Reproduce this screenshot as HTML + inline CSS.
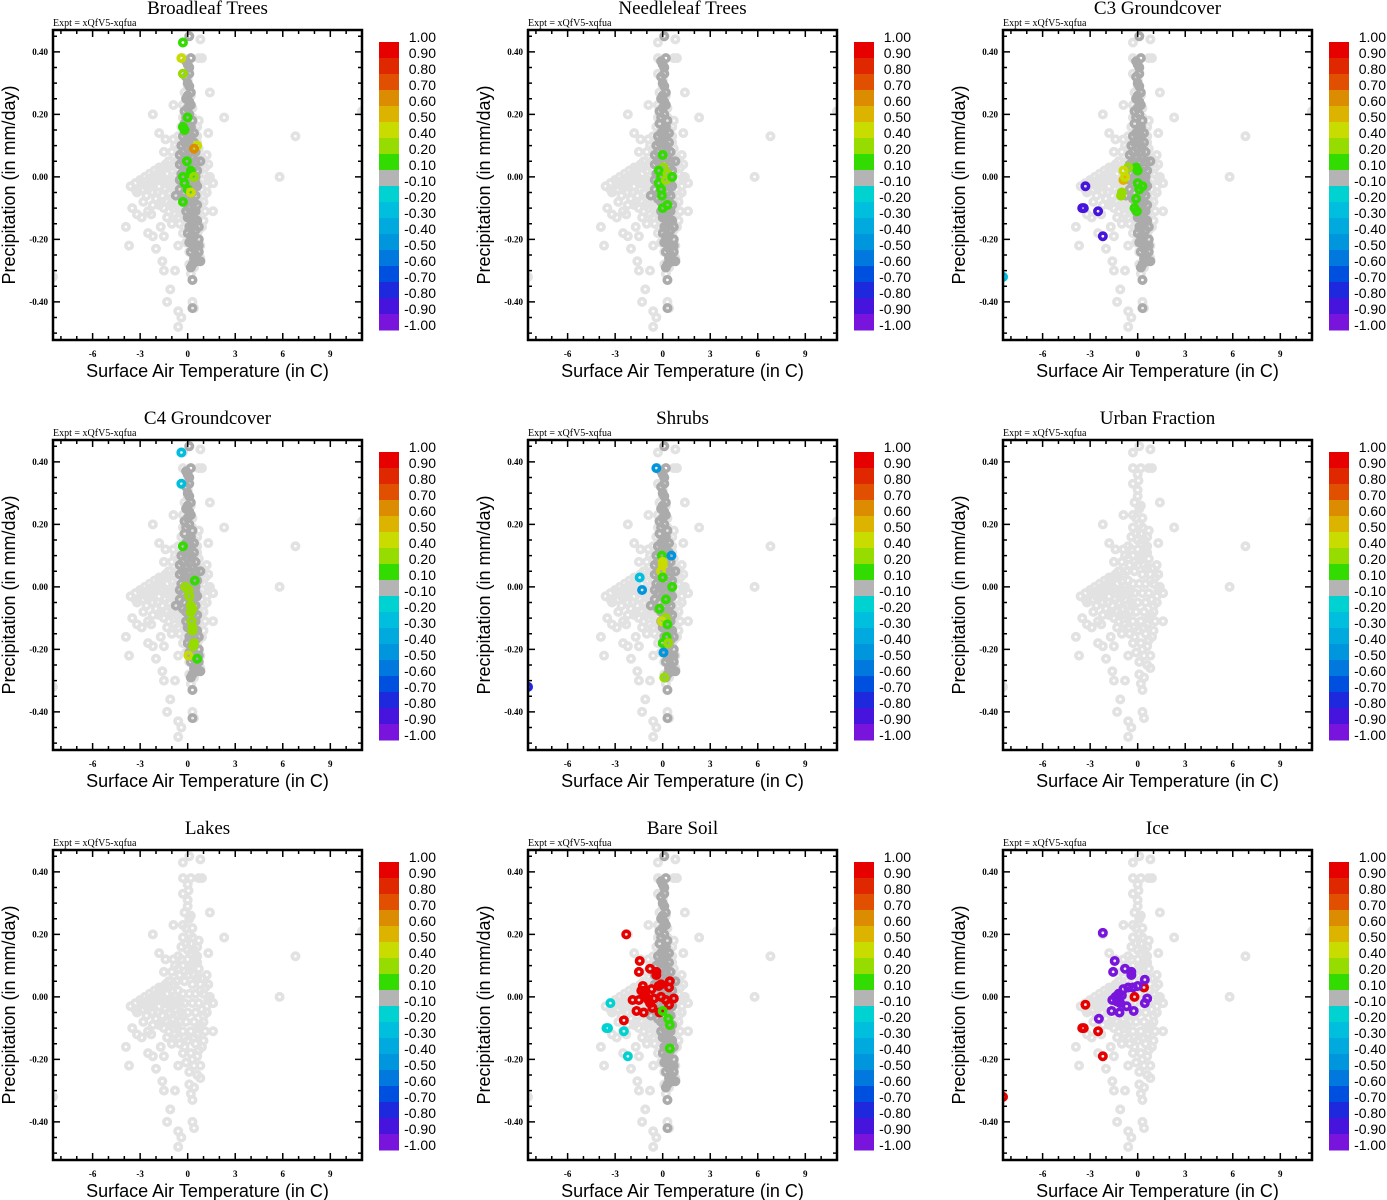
<!DOCTYPE html>
<html><head><meta charset="utf-8"><style>
body{margin:0;background:#fff}
svg{display:block}
.tt{font-family:"Liberation Serif",serif;font-size:19px}
.ex{font-family:"Liberation Serif",serif;font-size:10px}
.tk{font-family:"Liberation Serif",serif;font-size:9px;font-weight:bold}
.at{font-family:"Liberation Sans",sans-serif;font-size:18px}
.cb{font-family:"Liberation Sans",sans-serif;font-size:14px}
</style></head><body>
<svg id="fig" width="1387" height="1200" viewBox="0 0 1387 1200" xmlns="http://www.w3.org/2000/svg"></svg>
<script>
const titles=["Broadleaf Trees","Needleleaf Trees","C3 Groundcover","C4 Groundcover","Shrubs","Urban Fraction","Lakes","Bare Soil","Ice"];
const xTicks=[-6,-3,0,3,6,9];
const yTicks=[0.4,0.2,0,-0.2,-0.4];
const yTickLabels=["0.40","0.20","0.00","-0.20","-0.40"];
const cbLabels=["1.00","0.90","0.80","0.70","0.60","0.50","0.40","0.20","0.10","-0.10","-0.20","-0.30","-0.40","-0.50","-0.60","-0.70","-0.80","-0.90","-1.00"];
const cbEdges=[1,0.9,0.8,0.7,0.6,0.5,0.4,0.2,0.1,-0.1,-0.2,-0.3,-0.4,-0.5,-0.6,-0.7,-0.8,-0.9,-1];
const cbColors=["#e60000","#e02800","#e05000","#dc8c00","#dcb400","#c8dc00","#96dc00","#32dc00","#b4b4b4","#00d2d2","#00bede","#00aade","#0096de","#0078de","#0050e0","#1e28dc","#4614dc","#7814dc"];
const bgPts=[[0.1,0.45],[0.8,0.44],[-0.3,0.43],[-0.3,0.38],[0.2,0.38],[0.7,0.38],[0.9,0.38],[0,0.36],[-0.3,0.33],[0.05,0.34],[0,0.31],[1.4,0.27],[0,0.29],[0.1,0.25],[-0.3,0.23],[-0.9,0.23],[-2.2,0.2],[2.3,0.19],[0.1,0.2],[0.2,0.17],[0.7,0.18],[0.6,0.16],[-1.8,0.14],[1.3,0.14],[-1.4,0.12],[-1.5,0.08],[0.6,0.11],[1.2,0.07],[5.8,0],[6.8,0.13],[11,0.21],[-8.5,-0.32],
[-0.2,0.27],[0.2,0.26],[-0.1,0.22],[0.3,0.22],[-0.3,0.19],[0.3,0.19],[-0.4,0.16],[0,0.15],[0.4,0.15],[-0.6,0.13],[0,0.12],[0.5,0.12],[-0.8,0.1],[-0.3,0.1],[0.2,0.1],[0.7,0.09],[-1,0.08],[-0.5,0.07],[0,0.07],[0.4,0.07],[0.9,0.06],[-1.2,0.05],[-0.7,0.05],[-0.2,0.05],[0.3,0.04],[0.8,0.04],[1.3,0.04],
[-3.6,-0.03],[-3.3,-0.02],[-3,-0.01],[-2.7,0],[-2.4,0.01],[-2.1,0.02],[-1.8,0.03],[-1.5,0.03],[-2.8,-0.04],[-2.4,-0.03],[-2,-0.01],[-1.6,0],[-1.3,0.01],[-1,0.02],[-0.6,0.02],[-0.3,0.01],[0.1,0.01],[0.5,0.01],[1,0.01],[1.4,0],[-3.2,-0.05],[-2.6,-0.06],[-2.2,-0.05],[-1.8,-0.03],[-1.4,-0.02],[-1,-0.01],[-0.6,-0.01],[-0.2,-0.02],[0.3,-0.02],[0.7,-0.02],[1.2,-0.03],[1.6,-0.02],[-2,-0.07],[-1.6,-0.06],[-1.2,-0.05],[-0.8,-0.04],[-0.4,-0.05],[0,-0.05],[0.5,-0.05],[1,-0.06],[1.2,-0.05],
[-3.5,-0.1],[-3.2,-0.12],[-2.9,-0.13],[-2.5,-0.11],[-2.3,-0.12],[-3.9,-0.16],[-3.7,-0.22],[-2.5,-0.18],[-2.2,-0.19],[-1.7,-0.16],[-1.5,-0.19],[-2,-0.23],[-1.6,-0.27],[-1.5,-0.3],[-0.8,-0.3],[-1.1,-0.36],[-1.3,-0.4],[-0.6,-0.22],[-0.6,-0.43],[-0.4,-0.45],[-0.6,-0.48],[0.3,-0.4],[0.4,-0.42],[0.1,-0.28],[0.4,-0.29],[0.2,-0.31],[0.3,-0.33],[1.1,-0.11],[1.6,-0.11],[1,-0.14],[0.8,-0.26],[1.6,-0.02],[1.2,-0.05],
[-1.8,-0.09],[-1.3,-0.08],[-0.9,-0.07],[-0.5,-0.08],[-0.1,-0.08],[0.4,-0.08],[0.8,-0.09],[-1.2,-0.11],[-0.8,-0.12],[-0.3,-0.11],[0.2,-0.11],[0.6,-0.12],[-1,-0.15],[-0.5,-0.15],[0,-0.14],[0.5,-0.15],[0.9,-0.16],[-0.3,-0.18],[0.2,-0.18],[0.6,-0.19],[-0.1,-0.21],[0.4,-0.22],[0.8,-0.22],[0.1,-0.24],[0.6,-0.25]];
const bgExtra=[[-3.3,-0.04],[-2.9,-0.02],[-2.5,-0.01],[-2.2,0.0],[-1.9,0.01],[-1.7,0.02],[-1.4,0.04],[-1.1,0.05],[-0.9,0.04],[-1.2,0.03],[-2.6,-0.03],[-2.3,-0.02],[-2.0,0.0],[-1.7,-0.01],[-1.5,-0.02],[-1.2,-0.02],[-0.8,0.0],[-0.5,-0.02],[-1.4,-0.04],[-1.0,-0.03],[-1.7,-0.08],[-1.5,-0.1],[-1.1,-0.09],[-0.7,-0.09],[-0.3,-0.06],[-0.7,-0.06],[-1.3,-0.13],[-0.9,-0.1],[-0.6,-0.13],[-0.2,-0.13],[1.0,-0.08],[1.3,-0.01],[1.1,0.03],[0.8,0.02],[0.6,0.06],[-0.6,0.09],[-0.4,0.12],[-0.9,0.12],[0.2,0.14],[0.6,0.13],[-0.2,0.08],[0.9,-0.04],[0.7,-0.1],[0.7,-0.17],[0.3,-0.2],[-0.2,-0.16],[0.4,-0.13],[-2.2,-0.09],[-2.8,-0.08],[-1.9,-0.05],[0.3,0.09],[-0.1,0.17]];
const dgPts=[[0.1,0.45],[0.2,0.38],[0,0.36],[0.1,0.33],[0,0.3],[0.2,0.27],[-0.1,0.25],[0.2,0.23],[-0.2,0.21],[0.1,0.2],[0.3,0.18],[-0.2,0.17],[0.1,0.15],[0.4,0.14],[-0.3,0.13],[0,0.12],[0.4,0.11],[-0.4,0.1],[0,0.09],[0.5,0.08],[-0.5,0.07],[-0.1,0.06],[0.3,0.06],[0.8,0.05],[-0.5,0.04],[0,0.03],[0.4,0.03],[-0.4,0.01],[0,0],[0.5,0],[-0.3,-0.02],[0.2,-0.02],[0.6,-0.03],[-0.75,-0.06],[-0.2,-0.05],[0.3,-0.05],[-0.1,-0.08],[0.4,-0.08],[0.1,-0.1],[0.5,-0.11],[0.2,-0.13],[0.6,-0.14],[0.1,-0.16],[0.5,-0.17],[0.2,-0.19],[0.7,-0.2],[0.1,-0.21],[0.5,-0.22],[0.2,-0.24],[0.7,-0.24],[0.4,-0.26],[0.8,-0.27],[0.3,-0.28],[0.3,-0.33],[0.3,-0.42]];
const dgExtra=[[-0.1,0.37],[0.1,0.35],[-0.1,0.32],[0.1,0.29],[0,0.26],[0.1,0.24],[0,0.22],[-0.1,0.19],[0.2,0.16],[-0.1,0.14],[0.2,0.13],[-0.2,0.11],[0.2,0.1],[-0.3,0.08],[0.2,0.08],[-0.3,0.05],[0.1,0.05],[0.5,0.05],[-0.2,0.03],[0.2,0.02],[0.6,0.02],[-0.2,0.0],[0.3,0.0],[-0.5,-0.01],[0,-0.03],[0.5,-0.02],[-0.5,-0.04],[0.1,-0.06],[0.5,-0.06],[-0.3,-0.07],[0.2,-0.08],[0.6,-0.09],[-0.1,-0.11],[0.3,-0.11],[0,-0.13],[0.4,-0.14],[0.3,-0.16],[0.7,-0.16],[0,-0.18],[0.4,-0.19],[0.3,-0.21],[0.7,-0.22],[0.4,-0.23],[0.5,-0.25],[0.6,-0.27],[0.2,-0.29]];
const broadleafPts=[[-0.3,0.43,0.15],[-0.4,0.38,0.45],[-0.3,0.33,0.3],[0,0.19,0.15],[-0.3,0.16,0.15],[-0.2,0.15,0.15],[0.6,0.1,0.45],[0.4,0.09,0.65],[-0.05,0.05,0.15],[0.2,0.02,0.15],[0.2,0.01,0.15],[-0.3,0,0.15],[0.4,0,0.3],[-0.2,-0.02,0.15],[0,-0.04,0.15],[0.2,-0.05,0.45],[-0.3,-0.08,0.15]];
const needleleafPts=[[0,0.07,0.15],[0.05,0.03,0.3],[-0.25,0.02,0.15],[-0.1,0,0.15],[-0.25,-0.02,0.15],[-0.1,-0.04,0.15],[-0.05,-0.06,0.15],[0,-0.1,0.15],[0.3,-0.09,0.15],[0.3,0.01,0.3],[0.2,-0.01,0.3],[0.6,0,0.15]];
const c3Pts=[[-3.3,-0.03,-0.85],[-3.5,-0.1,-0.85],[-3.4,-0.1,-0.85],[-2.5,-0.11,-0.85],[-2.2,-0.19,-0.85],[-8.5,-0.32,-0.25],[0,0.02,0.15],[-0.1,0.03,0.15],[-0.6,0.03,0.3],[-0.9,0.02,0.45],[-0.9,-0.01,0.55],[-0.8,0,0.45],[-1,-0.05,0.3],[-1.05,-0.06,0.3],[0,-0.02,0.15],[0.3,-0.03,0.15],[0.1,-0.04,0.15],[-0.1,-0.07,0.15],[-0.2,-0.1,0.15],[-0.05,-0.11,0.15]];
const c4Pts=[[-0.4,0.43,-0.25],[-0.4,0.33,-0.25],[-0.3,0.13,0.15],[0.45,0.02,0.15],[-0.15,0,0.3],[0.05,-0.01,0.3],[0.1,-0.03,0.3],[0.2,-0.06,0.3],[0.3,-0.07,0.3],[0.2,-0.08,0.3],[0.25,-0.11,0.3],[0.3,-0.13,0.3],[0.3,-0.14,0.3],[0.4,-0.18,0.3],[0.35,-0.19,0.3],[0.05,-0.22,0.45],[0.6,-0.23,0.15]];
const shrubsPts=[[-0.4,0.38,-0.45],[-0.05,0.1,0.15],[0.55,0.1,-0.5],[0,0.08,0.45],[0,0.07,0.45],[-0.1,0.05,0.45],[0,0.03,0.15],[-1.45,0.03,-0.25],[-1.3,-0.01,-0.5],[0.6,0,0.15],[0.2,-0.04,0.15],[-0.2,-0.07,0.15],[0.2,-0.1,0.3],[-0.05,-0.11,0.45],[0.3,-0.12,0.15],[0.25,-0.16,0.15],[0,-0.18,0.15],[0.35,-0.18,0.3],[0.05,-0.21,-0.5],[0.1,-0.29,0.3],[-8.5,-0.32,-0.75]];
const bareSoilPts=[[-2.3,0.2,0.95],[-1.45,0.115,0.95],[-1.5,0.08,0.95],[-0.8,0.09,0.95],[-0.4,0.08,0.95],[-0.4,0.07,0.95],[0.45,0.05,0.95],[-1.25,0.035,0.95],[-1.35,0.02,0.95],[-1.2,0.01,0.95],[-1.05,0.0,0.95],[-0.9,-0.01,0.95],[-0.7,0.025,0.95],[-0.25,0.035,0.95],[-0.1,0.04,0.95],[0.4,0.03,0.95],[-0.1,0,0.95],[0.2,-0.01,0.95],[0.7,-0.005,0.95],[0.4,-0.025,0.95],[-1.9,-0.01,0.95],[-1.65,-0.045,0.95],[-1.2,-0.05,0.95],[-0.65,-0.035,0.95],[-0.2,-0.05,0.95],[-0.8,-0.02,0.95],[-1.5,-0.01,0.95],[-1.1,0.02,0.95],[-0.55,-0.005,0.95],[-2.45,-0.075,0.95],[-3.3,-0.02,-0.15],[-3.55,-0.1,-0.15],[-3.45,-0.1,-0.15],[-2.45,-0.11,-0.15],[-2.2,-0.19,-0.15],[0,-0.045,0.15],[0.35,-0.07,0.15],[0.45,-0.09,0.15],[0.45,-0.165,0.15]];
const icePts=[[-3.3,-0.025,0.95],[-3.5,-0.1,0.95],[-3.4,-0.1,0.95],[-2.5,-0.11,0.95],[-2.2,-0.19,0.95],[0.4,0.03,0.95],[-0.2,0,0.95],[-8.5,-0.32,0.95],[-2.2,0.205,-0.95],[-1.45,0.115,-0.95],[-1.55,0.08,-0.95],[-0.8,0.09,-0.95],[-0.4,0.08,-0.95],[-0.4,0.07,-0.95],[0.45,0.055,-0.95],[-1.4,0,-0.95],[-1.2,0.01,-0.95],[-1.3,-0.015,-0.95],[-1.0,0.005,-0.95],[-1.6,-0.01,-0.95],[-1.1,-0.02,-0.95],[-0.6,0.03,-0.95],[-0.3,0.03,-0.95],[0,0.035,-0.95],[-0.9,0.025,-0.95],[-2.45,-0.07,-0.95],[-0.25,-0.045,-0.95],[-1.15,-0.05,-0.95],[-1.65,-0.045,-0.95],[0.6,-0.005,-0.95],[0.45,-0.02,-0.95],[-0.7,-0.03,-0.95]];
const panelColored=[broadleafPts,needleleafPts,c3Pts,c4Pts,shrubsPts,[],[],bareSoilPts,icePts];
const panelDark=[true,true,true,true,true,false,false,true,false];

const NS="http://www.w3.org/2000/svg";
const svg=document.getElementById('fig');
function mk(tag,attrs,parent){const e=document.createElementNS(NS,tag);for(const k in attrs)e.setAttribute(k,attrs[k]);(parent||svg).appendChild(e);return e;}
const X0=-8.5,X1=11.0,Y0=-0.522,Y1=0.47,PW=309,PH=310;
function colorFor(v){for(let i=0;i<cbColors.length;i++){if(v<=cbEdges[i]&&v>=cbEdges[i+1])return cbColors[i];}return cbColors[8];}

titles.forEach((t,i)=>{
  const c=i%3,r=Math.floor(i/3);
  const L=53+475*c,T=30+410*r;
  const sx=x=>L+(x-X0)/(X1-X0)*PW;
  const sy=y=>T+(Y1-y)/(Y1-Y0)*PH;
  const g=mk('g',{});
  
  
  const cp=mk('clipPath',{id:'cp'+i},g);mk('rect',{x:L,y:T,width:PW,height:PH},cp);
  const tt=mk('text',{x:L+PW/2,y:T-16,'text-anchor':'middle',class:'tt'},g);tt.textContent=t;
  
  
  const ex=mk('text',{x:L,y:T-4,class:'ex'},g);ex.textContent='Expt = xQfV5-xqfua';
  
  
  const pts=mk('g',{'clip-path':'url(#cp'+i+')'},g);
  
  
  function dot(x,y,col){const e=mk('circle',{cx:sx(x),cy:sy(y),r:3.2,fill:'none',stroke:col,'stroke-width':3.6},pts);
    
    }
  bgPts.forEach(p=>dot(p[0],p[1],'#e2e2e2'));
  bgExtra.forEach(p=>dot(p[0],p[1],'#e2e2e2'));
  if(panelDark[i]){dgPts.forEach(p=>dot(p[0],p[1],'#ababab'));dgExtra.forEach(p=>dot(p[0],p[1],'#ababab'));}
  panelColored[i].forEach(p=>dot(p[0],p[1],colorFor(p[2])));
  const tk=mk('g',{stroke:'#000','stroke-width':1.5},g);
  for(let x=-8;x<=10;x++){const maj=x%3===0;const l=maj?7:4;const px=sx(x);
    mk('line',{x1:px,y1:T+PH,x2:px,y2:T+PH-l},tk);mk('line',{x1:px,y1:T,x2:px,y2:T+l},tk);}
  for(let k=-10;k<=9;k++){const y=k*0.05;const maj=k%4===0;const l=maj?7:4;const py=sy(y);
    mk('line',{x1:L,y1:py,x2:L+l,y2:py},tk);mk('line',{x1:L+PW,y1:py,x2:L+PW-l,y2:py},tk);}
  const fr=mk('rect',{x:L,y:T,width:PW,height:PH,fill:'none',stroke:'#000','stroke-width':2.5},g);
  
  
  xTicks.forEach(x=>{const e=mk('text',{x:sx(x),y:T+PH+17,'text-anchor':'middle',class:'tk'},g);e.textContent=x;
    
    });
  yTicks.forEach((y,k)=>{const e=mk('text',{x:L-5,y:sy(y)+3,'text-anchor':'end',class:'tk'},g);e.textContent=yTickLabels[k];
    
    });
  const xt=mk('text',{x:L+PW/2,y:T+PH+37,'text-anchor':'middle',class:'at'},g);xt.textContent='Surface Air Temperature (in C)';
  
  
  const yt=mk('text',{x:0,y:0,'text-anchor':'middle',class:'at',transform:`translate(${L-38},${T+PH/2}) rotate(-90)`},g);yt.textContent='Precipitation (in mm/day)';
  
  
  const cb=mk('g',{},g);
  
  
  const CX=L+326,CY=T+12;
  cbColors.forEach((col,k)=>{const e=mk('rect',{x:CX,y:CY+16*k,width:20,height:16.5,fill:col},cb);
    
    });
  cbLabels.forEach((lb,k)=>{const e=mk('text',{x:CX+57,y:CY+16*k,'text-anchor':'end',class:'cb'},cb);e.textContent=lb;
    
    });
});
</script>
</body></html>
